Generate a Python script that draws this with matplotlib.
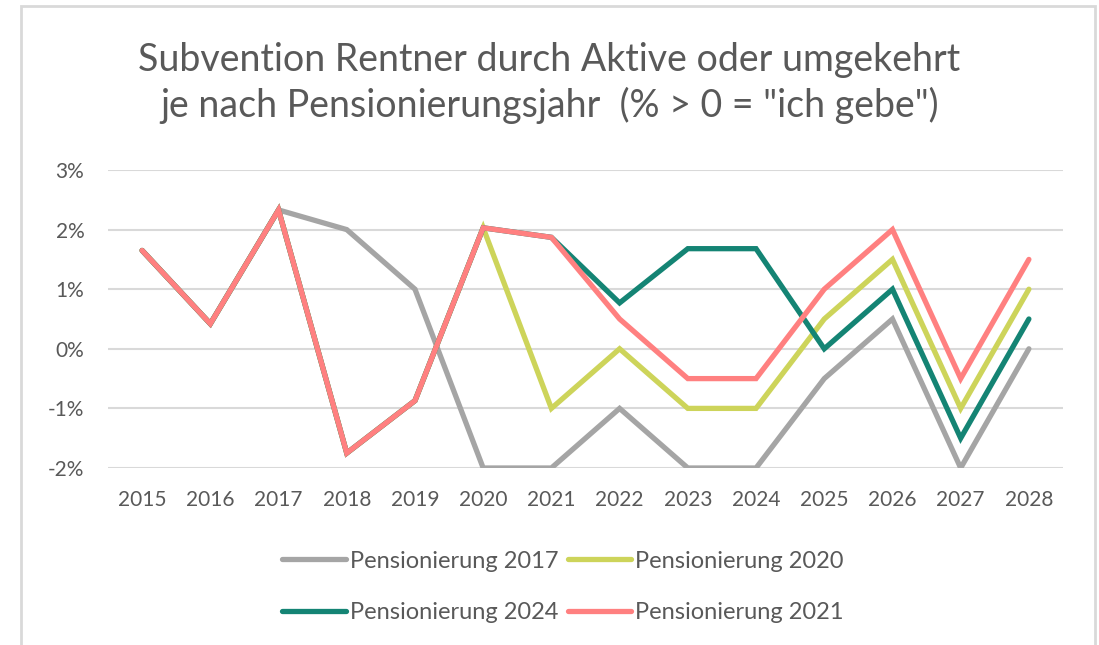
import matplotlib
matplotlib.use("Agg")
import matplotlib.pyplot as plt
from matplotlib.patches import Rectangle
from matplotlib.ticker import FuncFormatter

years = ["2015", "2016", "2017", "2018", "2019", "2020", "2021",
         "2022", "2023", "2024", "2025", "2026", "2027", "2028"]

pens_2017 = [1.65, 0.42, 2.33, 2.0, 1.0, -2.0, -2.0, -1.0, -2.0, -2.0, -0.5, 0.5, -2.0, 0.0]
pens_2020 = [1.65, 0.42, 2.33, -1.75, -0.87, 2.03, -1.0, 0.0, -1.0, -1.0, 0.5, 1.5, -1.0, 1.0]
pens_2024 = [1.65, 0.42, 2.33, -1.75, -0.87, 2.03, 1.87, 0.77, 1.68, 1.68, 0.0, 1.0, -1.5, 0.5]
pens_2021 = [1.65, 0.42, 2.33, -1.75, -0.87, 2.03, 1.87, 0.5, -0.5, -0.5, 1.0, 2.0, -0.5, 1.5]

labels = ["Pensionierung 2017", "Pensionierung 2020", "Pensionierung 2024", "Pensionierung 2021"]
colors = ["#A5A5A5", "#CDD45A", "#148474", "#FF8080"]

plt.rcParams['font.family'] = ['Lato', 'DejaVu Sans']
text_color = "#595959"

fig = plt.figure(figsize=(10.99, 6.45), dpi=100)
ax = fig.add_axes([108/1099, 1-468/645, (1063-108)/1099, (468-170)/645])

x = list(range(len(years)))
series = [pens_2017, pens_2020, pens_2024, pens_2021]
handles = []
for s, lab, c in zip(series, labels, colors):
    h, = ax.plot(x, s, color=c, lw=3.8, solid_capstyle='round',
                 solid_joinstyle='miter', label=lab, zorder=3)
    handles.append(h)

ax.set_xlim(-0.5, len(years) - 0.5)
ax.set_ylim(-2, 3)
ax.set_yticks([-2, -1, 0, 1, 2, 3])
ax.yaxis.set_major_formatter(FuncFormatter(lambda v, p: f"{int(round(v))}%"))
ax.set_xticks(x)
ax.set_xticklabels(years)
ax.grid(axis='y', color="#D9D9D9", lw=1.5, zorder=0)
ax.grid(axis='x', visible=False)
for sp in ax.spines.values():
    sp.set_visible(False)
ax.tick_params(axis='both', length=0, labelsize=15, colors=text_color)
ax.tick_params(axis='x', pad=16)
ax.tick_params(axis='y', pad=17)

fig.text(0.5, 1-60/645, "Subvention Rentner durch Aktive oder umgekehrt",
         ha='center', va='center', fontsize=27, color=text_color)
fig.text(0.5, 1-105/645, 'je nach Pensionierungsjahr  (% > 0 = "ich gebe")',
         ha='center', va='center', fontsize=27, color=text_color)

leg_handles = [handles[0], handles[2], handles[1], handles[3]]
leg = fig.legend(leg_handles, [h.get_label() for h in leg_handles], ncol=2,
                 loc='center', bbox_to_anchor=(563/1099, 1-587/645),
                 frameon=False, fontsize=17, handlelength=2.7,
                 handletextpad=0.15, columnspacing=0.4, labelspacing=1.3,
                 labelcolor=text_color)

fig.patches.append(Rectangle((21/1099, -0.05), (1095-21)/1099, 1.05 - 6/645,
                             transform=fig.transFigure, fill=False,
                             edgecolor="#D9D9D9", lw=2))

fig.savefig("out.png", dpi=100, facecolor='white')
